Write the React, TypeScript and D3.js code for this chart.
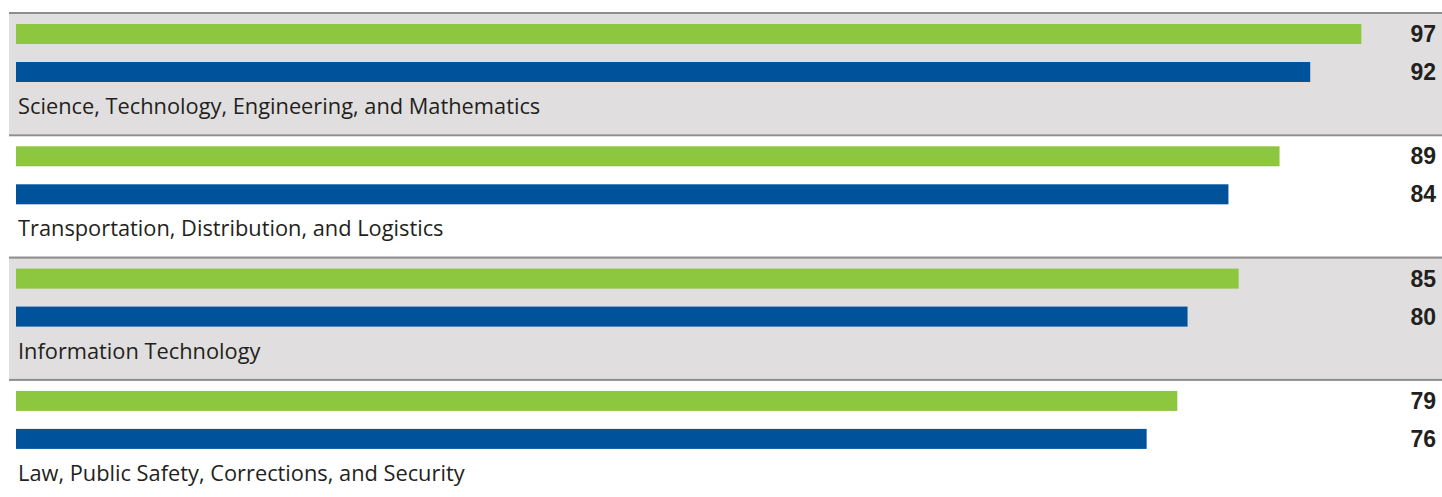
import React from "react";
import * as d3 from "d3";

const categories = [
  "Science, Technology, Engineering, and Mathematics",
  "Transportation, Distribution, and Logistics",
  "Information Technology",
  "Law, Public Safety, Corrections, and Security",
];
const seriesA = [97, 89, 85, 79];
const seriesB = [92, 84, 80, 76];

const W = 1442;
const H = 497;

export default function App() {
  const bandTop = 12;
  const bandH = 122.3;
  const x = d3.scaleLinear().domain([-34.6, 100]).range([16, 1392]);
  const y = d3
    .scaleBand<string>()
    .domain(categories)
    .range([bandTop, bandTop + bandH * categories.length])
    .paddingInner(0)
    .paddingOuter(0);
  const barH = 20;
  return (
    <svg width={W} height={H} style={{ position: "absolute", left: 0, top: 0 }}>
      <rect x={0} y={0} width={W} height={H} fill="#ffffff" />
      {categories.map((c, i) => {
        const top = y(c)!;
        return (
          <g key={c}>
            {i % 2 === 0 && (
              <rect x={9} y={top} width={W - 9} height={y.bandwidth()} fill="#e0dedf" />
            )}
            <rect x={9} y={top} width={W - 9} height={2} fill="#8e8e8e" />
            <rect x={x(-34.6)} y={top + 12} width={x(seriesA[i]) - x(-34.6)} height={barH} fill="#8dc63f" />
            <rect x={x(-34.6)} y={top + 50} width={x(seriesB[i]) - x(-34.6)} height={barH} fill="#00529b" />
            <text
              x={1436}
              y={top + 12 + barH / 2 + 8}
              textAnchor="end"
              fontFamily="'Liberation Sans', Arial, sans-serif"
              fontWeight="bold"
              fontSize={23}
              fill="#231f20"
            >
              {seriesA[i]}
            </text>
            <text
              x={1436}
              y={top + 50 + barH / 2 + 8}
              textAnchor="end"
              fontFamily="'Liberation Sans', Arial, sans-serif"
              fontWeight="bold"
              fontSize={23}
              fill="#231f20"
            >
              {seriesB[i]}
            </text>
            <text
              x={18}
              y={top + 102}
              fontFamily="'Open Sans', sans-serif"
              fontSize={21.8}
              fill="#231f20"
            >
              {c}
            </text>
          </g>
        );
      })}
    </svg>
  );
}
